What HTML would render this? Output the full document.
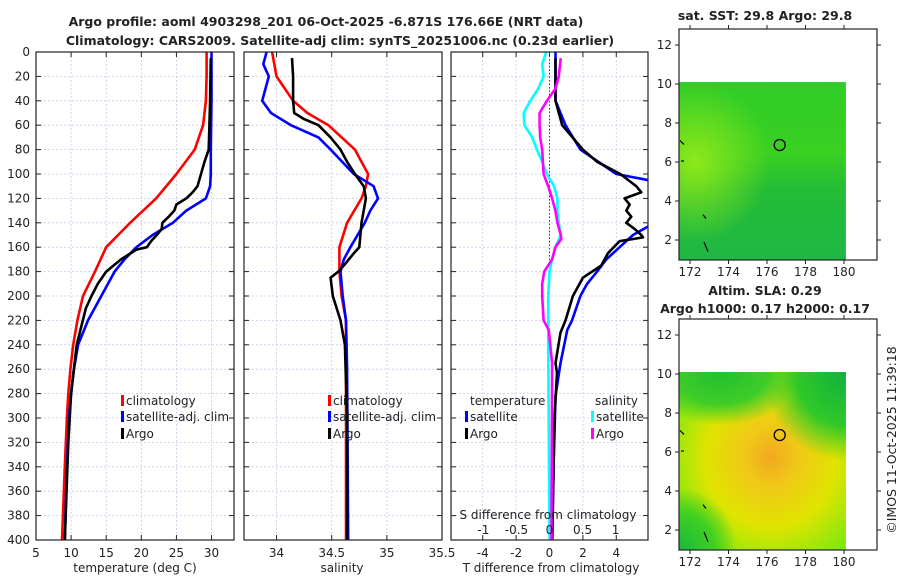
<!DOCTYPE html>
<html><head><meta charset="utf-8"><style>
body{margin:0;background:#fff;width:900px;height:580px;overflow:hidden}
svg text{font-family:"DejaVu Sans","Liberation Sans",sans-serif;fill:#222}
</style></head><body>
<svg id="c" width="900" height="580" viewBox="0 0 900 580" xmlns="http://www.w3.org/2000/svg">
<defs>
<radialGradient id="sstLeft" cx="0.1" cy="0.45" r="0.45"><stop offset="0" stop-color="#8ee81a"/><stop offset="1" stop-color="#8ee81a" stop-opacity="0"/></radialGradient>
<linearGradient id="sstBase" x1="0" y1="0" x2="0" y2="1"><stop offset="0" stop-color="#30cc28"/><stop offset="0.4" stop-color="#3ad022"/><stop offset="0.6" stop-color="#24bc36"/><stop offset="1" stop-color="#20b844"/></linearGradient>
<radialGradient id="slaCore" cx="0.55" cy="0.48" r="0.65"><stop offset="0" stop-color="#f2a820"/><stop offset="0.25" stop-color="#f0c818"/><stop offset="0.6" stop-color="#e0e400"/><stop offset="1" stop-color="#80e810"/></radialGradient>
<radialGradient id="slaTR" cx="1" cy="0" r="0.5"><stop offset="0" stop-color="#10b040"/><stop offset="0.6" stop-color="#30c828"/><stop offset="1" stop-color="#30c828" stop-opacity="0"/></radialGradient>
<radialGradient id="slaTL" cx="0.25" cy="0" r="0.3" gradientTransform="translate(0.25,0) scale(1.6,1) translate(-0.25,0)"><stop offset="0" stop-color="#20c030"/><stop offset="0.6" stop-color="#40cc28"/><stop offset="1" stop-color="#40cc28" stop-opacity="0"/></radialGradient>
<radialGradient id="slaBL" cx="0" cy="1" r="0.35"><stop offset="0" stop-color="#18b840"/><stop offset="0.6" stop-color="#40d020"/><stop offset="1" stop-color="#40d020" stop-opacity="0"/></radialGradient>
</defs>
<g id="root"></g>
</svg>
<script>
// ---- data ----
const depthTicks = [0,20,40,60,80,100,120,140,160,180,200,220,240,260,280,300,320,340,360,380,400];
const tempTicks = [5,10,15,20,25,30];
const salTicks = [34,34.5,35,35.5];
const tdiffTicks = [-4,-2,0,2,4];
const sdiffTicks = [-1,-0.5,0,0.5,1];

const climTDepth = [0,20,40,60,80,100,120,140,160,180,200,220,240,260,280,300,340,400];
const climT = [29.3,29.3,29.2,28.8,27.6,25.0,22.1,18.4,15.0,13.4,11.7,10.9,10.3,9.9,9.6,9.4,9.1,8.7];
const satTDepth = [0,40,80,100,110,120,130,140,150,160,170,180,200,220,240,260,280,300,340,400];
const satT = [30.0,30.0,29.9,29.9,29.8,29.2,26.4,24.5,21.6,19.3,17.6,16.2,14.3,12.4,11.0,10.4,10.0,9.7,9.4,9.1];
const argoTDepth = [5,40,80,90,100,110,115,120,125,130,135,140,145,150,155,160,162,170,180,190,200,210,240,280,320,400];
const argoT = [29.9,29.8,29.6,29.0,28.5,28.0,27.3,26.4,25.0,24.7,23.9,23.0,22.9,22.2,21.4,20.8,19.3,17.1,15.0,13.8,12.9,12.1,10.8,10.0,9.6,9.1];

const climSDepth = [0,20,40,50,60,80,100,110,120,140,160,180,200,220,260,400];
const climS = [33.96,34.0,34.15,34.28,34.47,34.71,34.83,34.81,34.77,34.64,34.57,34.57,34.59,34.63,34.63,34.63];
const satSDepth = [0,10,20,40,50,60,70,80,100,110,120,130,140,160,170,180,200,220,260,400];
const satS = [33.91,33.88,33.93,33.87,33.95,34.13,34.38,34.49,34.70,34.88,34.92,34.85,34.80,34.67,34.61,34.58,34.60,34.63,34.64,34.65];
const argoSDepth = [5,20,40,50,55,60,70,80,90,100,110,120,130,140,160,165,175,180,185,200,220,240,300,400];
const argoS = [34.14,34.15,34.15,34.16,34.25,34.38,34.49,34.58,34.64,34.71,34.79,34.81,34.79,34.77,34.75,34.70,34.61,34.56,34.49,34.51,34.58,34.62,34.64,34.64];

const satTdDepth = [0,40,60,80,100,105,120,143,150,160,170,180,190,200,220,228,255,282,336,400];
const satTd = [0.36,0.36,0.96,1.85,4.0,5.9,7.1,5.9,5.0,4.2,3.4,2.85,2.25,1.85,1.35,1.06,0.66,0.36,0.25,0.16];
const argoTdDepth = [5,40,60,80,90,100,110,115,120,125,130,135,140,145,150,152,155,165,175,185,200,220,230,255,263,300,400];
const argoTd = [0.36,0.36,0.76,2.0,2.85,4.24,5.2,5.5,4.5,4.8,4.6,4.9,4.6,5.1,5.5,5.6,4.2,3.5,3.1,2.0,1.4,0.96,0.66,0.36,0.45,0.3,0.16];
const satSdDepth = [0,10,20,30,40,50,60,70,80,90,100,110,120,130,140,150,160,170,180,200,240,400];
const satSd = [-0.05,-0.11,-0.09,-0.17,-0.29,-0.39,-0.38,-0.26,-0.19,-0.11,-0.04,0.07,0.12,0.12,0.14,0.17,0.09,0.04,0.0,-0.02,-0.02,0.0];
const argoSdDepth = [5,20,30,40,50,60,70,80,90,100,110,120,130,140,150,153,160,170,180,190,200,220,228,255,400];
const argoSd = [0.17,0.14,0.09,-0.04,-0.15,-0.15,-0.14,-0.11,-0.1,-0.09,-0.02,0.04,0.09,0.12,0.17,0.18,0.09,0.04,-0.08,-0.11,-0.11,-0.09,-0.01,0.04,0.03];

const lonTicks = [172,174,176,178,180];
const latTicks = [2,4,6,8,10,12];
const argoLon = 176.66, argoLat = 6.871;

// ---- helpers ----
const NS='http://www.w3.org/2000/svg';
const root=document.getElementById('root');
function mk(tag,attrs,parent){const e=document.createElementNS(NS,tag);for(const k in attrs)e.setAttribute(k,attrs[k]);(parent||root).appendChild(e);return e;}
function txt(x,y,s,attrs,parent){const e=mk('text',Object.assign({x:x,y:y},attrs||{}),parent);e.textContent=s;return e;}

const Y0=52, Y1=540;
const yD = d => Y0 + (d/400)*(Y1-Y0);
const panels = {
  t:{x0:36,x1:234,min:5,max:33.2},
  s:{x0:244,x1:442,min:33.705,max:35.5},
  td:{x0:451,x1:648,min:-5.9,max:5.9}
};
const sdScale = {min:-1.49,max:1.49};
function xs(p,v){return p.x0+(v-p.min)/(p.max-p.min)*(p.x1-p.x0);}
function xsd(v){const p=panels.td;return p.x0+(v-sdScale.min)/(sdScale.max-sdScale.min)*(p.x1-p.x0);}

// titles
let t1=txt(326,26,'Argo profile: aoml 4903298_201 06-Oct-2025 -6.871S 176.66E (NRT data)',{'text-anchor':'middle','font-weight':'bold','font-size':'12.5'});


let t2=txt(340,45,'Climatology: CARS2009. Satellite-adj clim: synTS_20251006.nc (0.23d earlier)',{'text-anchor':'middle','font-weight':'bold','font-size':'12.5'});



function panelFrame(p,name,ticks,fn,labels){
  const g=mk('g',{});
  
  
  mk('rect',{x:p.x0,y:Y0,width:p.x1-p.x0,height:Y1-Y0,fill:'#fff'},g);
  depthTicks.forEach(d=>{ if(d>0&&d<400){
    mk('line',{x1:p.x0,x2:p.x1,y1:yD(d),y2:yD(d),stroke:'#c4cce8','stroke-width':0.8,'stroke-dasharray':'2,2'},g);
    mk('line',{x1:p.x0,x2:p.x0+5,y1:yD(d),y2:yD(d),stroke:'#222'},g);
    mk('line',{x1:p.x1-5,x2:p.x1,y1:yD(d),y2:yD(d),stroke:'#222'},g);
  }});
  ticks.forEach((v,i)=>{const x=fn(v); if(x>p.x0+1&&x<p.x1-1){
    mk('line',{x1:x,x2:x,y1:Y0,y2:Y1,stroke:'#c4cce8','stroke-width':0.8,'stroke-dasharray':'2,2'},g);
    mk('line',{x1:x,x2:x,y1:Y1,y2:Y1-5,stroke:'#222'},g);
    mk('line',{x1:x,x2:x,y1:Y0,y2:Y0+5,stroke:'#222'},g);}
    if(labels){const l=txt(x,557,labels[i],{'text-anchor':'middle','font-size':'12'},g);
    
    }
  });
  return g;
}
function frameBorder(p,g){mk('rect',{x:p.x0,y:Y0,width:p.x1-p.x0,height:Y1-Y0,fill:'none',stroke:'#222','stroke-width':1.2},g);}
function line(p,depths,vals,color,name,fn,g){
  const pts=depths.map((d,i)=>fn(vals[i]).toFixed(1)+','+yD(d).toFixed(1)).join(' ');
  const e=mk('polyline',{points:pts,fill:'none',stroke:color,'stroke-width':2.6,'stroke-linejoin':'round','clip-path':'url(#clip-'+name.split('-')[0]+')'},g);
  
  
}
function clip(id,p){const cp=mk('clipPath',{id:'clip-'+id});mk('rect',{x:p.x0,y:Y0,width:p.x1-p.x0,height:Y1-Y0},cp);}
clip('t',panels.t);clip('s',panels.s);clip('td',panels.td);

// y labels
depthTicks.forEach(d=>{const l=txt(30,yD(d)+4,String(d),{'text-anchor':'end','font-size':'12'});

});

// panel 1
const pT=panels.t;
const g1=panelFrame(pT,'temperature',tempTicks,v=>xs(pT,v),tempTicks.map(String));
line(pT,climTDepth,climT,'#f00','t-clim-line',v=>xs(pT,v),g1);
line(pT,satTDepth,satT,'#00f','t-sat-line',v=>xs(pT,v),g1);
line(pT,argoTDepth,argoT,'#000','t-argo-line',v=>xs(pT,v),g1);
frameBorder(pT,g1);
let xl=txt(135,572,'temperature (deg C)',{'text-anchor':'middle','font-size':'12'});



// panel 2
const pS=panels.s;
const g2=panelFrame(pS,'salinity',salTicks,v=>xs(pS,v),['34','34.5','35','35.5']);
line(pS,climSDepth,climS,'#f00','s-clim-line',v=>xs(pS,v),g2);
line(pS,satSDepth,satS,'#00f','s-sat-line',v=>xs(pS,v),g2);
line(pS,argoSDepth,argoS,'#000','s-argo-line',v=>xs(pS,v),g2);
frameBorder(pS,g2);
xl=txt(342,572,'salinity',{'text-anchor':'middle','font-size':'12'});



// panel 3
const pD=panels.td;
const g3=panelFrame(pD,'difference',tdiffTicks,v=>xs(pD,v),tdiffTicks.map(String));
mk('line',{x1:xs(pD,0),x2:xs(pD,0),y1:Y0,y2:yD(175),stroke:'#444','stroke-width':1,'stroke-dasharray':'1.5,2'},g3);
line(pD,satTdDepth,satTd,'#00f','td-sat-line',v=>xs(pD,v),g3);
line(pD,argoTdDepth,argoTd,'#000','td-argo-line',v=>xs(pD,v),g3);
line(pD,satSdDepth,satSd,'#00ffff','td-sdiff-sat-line',xsd,g3);
line(pD,argoSdDepth,argoSd,'#ff00ff','td-sdiff-argo-line',xsd,g3);
sdiffTicks.forEach(v=>{const l=txt(xsd(v),534,String(v),{'text-anchor':'middle','font-size':'12'},g3);

});
let st=txt(548,519,'S difference from climatology',{'text-anchor':'middle','font-size':'12'},g3);


frameBorder(pD,g3);
xl=txt(551,572,'T difference from climatology',{'text-anchor':'middle','font-size':'12'});



// legends
function legEntry(x,y,color,label,name){
  const g=mk('g',{});
  
  
  mk('rect',{x:x,y:y-10,width:3,height:11,fill:color},g);
  txt(x+5,y,label,{'font-size':'12'},g);
}
legEntry(121,405,'#f00','climatology','legend-entry-climatology');
legEntry(121,421,'#00f','satellite-adj. clim','legend-entry-satellite-adj');
legEntry(121,438,'#000','Argo','legend-entry-argo');
legEntry(328,405,'#f00','climatology','legend-entry-climatology-s');
legEntry(328,421,'#00f','satellite-adj. clim','legend-entry-satellite-adj-s');
legEntry(328,438,'#000','Argo','legend-entry-argo-s');
let lt=txt(470,405,'temperature',{'font-size':'12'});


lt=txt(595,405,'salinity',{'font-size':'12'});


legEntry(465,421,'#00f','satellite','legend-entry-t-satellite');
legEntry(465,438,'#000','Argo','legend-entry-t-argo');
legEntry(591,421,'#00ffff','satellite','legend-entry-s-satellite');
legEntry(591,438,'#ff00ff','Argo','legend-entry-s-argo');

// maps
const mapX0=679,mapX1=877;
const lonX = lon => 690+(lon-172)*19.25;
function drawMap(top,bottom,lat10,name,fills,title){
  const latY = lat => lat10+(10-lat)*19.5;
  const g=mk('g',{});
  
  
  const dx0=mapX0,dx1=lonX(180.1),dy0=latY(10.1),dy1=bottom;
  fills.forEach(f=>mk('rect',{x:dx0,y:dy0,width:dx1-dx0,height:dy1-dy0,fill:f},g));
  [[680,latY(7.1),684,latY(6.9)],[681,latY(6.05),684,latY(6.05)],[703,latY(3.3),706,latY(3.1)],[704,latY(1.9),708,latY(1.4)]].forEach(c=>
    mk('line',{x1:c[0],y1:c[1],x2:c[2],y2:c[3],stroke:'#000','stroke-width':1.2},g));
  const circ=mk('circle',{cx:lonX(argoLon),cy:latY(argoLat),r:5.5,fill:'none',stroke:'#000','stroke-width':1.3},g);
  
  
  mk('rect',{x:mapX0,y:top,width:mapX1-mapX0,height:bottom-top,fill:'none',stroke:'#222','stroke-width':1.2},g);
  lonTicks.forEach(l=>{const x=lonX(l);
    mk('line',{x1:x,x2:x,y1:bottom,y2:bottom+4,stroke:'#222'},g);
    mk('line',{x1:x,x2:x,y1:top,y2:top-4,stroke:'#222'},g);
    txt(x,bottom+16,String(l),{'text-anchor':'middle','font-size':'12'},g);});
  latTicks.forEach(l=>{const y=latY(l);
    mk('line',{x1:mapX0,x2:mapX0-4,y1:y,y2:y,stroke:'#222'},g);
    mk('line',{x1:mapX1,x2:mapX1+4,y1:y,y2:y,stroke:'#222'},g);
    txt(mapX0-7,y+4,String(l),{'text-anchor':'end','font-size':'12'},g);});
  title.forEach(t=>{txt(765,t[1],t[0],{'text-anchor':'middle','font-weight':'bold','font-size':'12.5'},g);});
}
drawMap(29,260,84,'sst-map',['url(#sstBase)','url(#sstLeft)'],[['sat. SST: 29.8 Argo: 29.8',20]]);
drawMap(319,550,374,'sla-map',['url(#slaCore)','url(#slaTR)','url(#slaTL)','url(#slaBL)'],[['Altim. SLA: 0.29',295],['Argo h1000: 0.17 h2000: 0.17',313]]);

let cp=txt(0,0,'©IMOS 11-Oct-2025 11:39:18',{'font-size':'12.5','text-anchor':'middle',transform:'translate(896,440) rotate(-90)'});


</script>
</body></html>
